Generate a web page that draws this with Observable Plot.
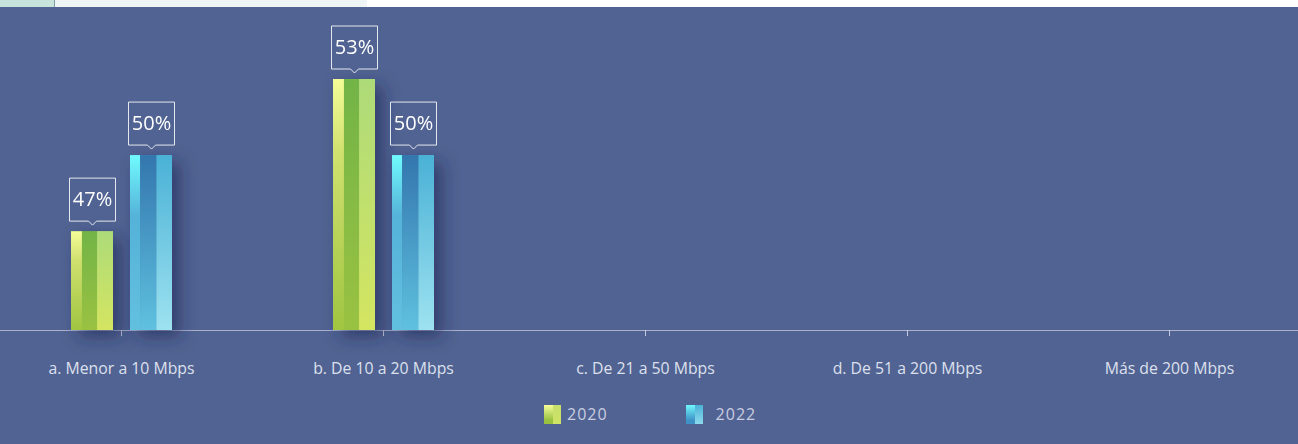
<!DOCTYPE html>
<html><head><meta charset="utf-8">
<script src="https://cdn.jsdelivr.net/npm/d3@7"></script>
<script src="https://cdn.jsdelivr.net/npm/@observablehq/plot@0.6"></script>
<style>
html,body{margin:0;padding:0;background:#516392;overflow:hidden;width:1298px;height:444px;font-family:"Open Sans",sans-serif;}
#topstrip{height:7px;display:flex;}
#chart{position:absolute;left:0;top:7px;}
#legend{position:absolute;left:544px;top:404px;display:flex;gap:78px;color:#c9cde1;font-size:16px;letter-spacing:1px;}
.item{display:flex;align-items:center;height:20px;}
.sw{width:17px;height:19px;display:flex;}
.sw span{display:block;height:100%;}
</style></head><body>
<div id="topstrip"><div style="width:54px;background:#c6e4dc"></div><div style="width:1px;background:#7d9aa6"></div><div style="width:312px;background:#eff5f5"></div><div style="flex:1;background:#fff"></div></div>
<div id="chart"></div>
<div id="legend"></div>
<script>
const categories = ["a. Menor a 10 Mbps","b. De 10 a 20 Mbps","c. De 21 a 50 Mbps","d. De 51 a 200 Mbps","Más de 200 Mbps"];
const years = ["2020","2022"];
const values2020 = [47, 53, null, null, null];
const values2022 = [50, 50, null, null, null];

const yMin = 43.1, yMax = 55.84;
const FONT = '"Open Sans", sans-serif';

const rows = [];
categories.forEach((c,i)=>{
  if (values2020[i] != null) rows.push({cat:c, year:"2020", value:values2020[i]});
  if (values2022[i] != null) rows.push({cat:c, year:"2022", value:values2022[i]});
});

const callout = {
  draw(ctx){
    const w=23,h=21.5,p=4;
    ctx.moveTo(-w,-h); ctx.lineTo(w,-h); ctx.lineTo(w,h); ctx.lineTo(p,h);
    ctx.lineTo(0,h+p); ctx.lineTo(-p,h); ctx.lineTo(-w,h); ctx.closePath();
  }
};

const barMark = (yr) => Plot.barY(rows, {filter:d=>d.year===yr, fx:"cat", x:"year", y1:yMin, y2:"value", fill:`url(#bar${yr})`});

const svg = Plot.plot({
  width:1298, height:383,
  marginTop:0, marginLeft:0, marginRight:0, marginBottom:60,
  style:{background:"transparent", fontFamily:FONT, overflow:"visible"},
  fx:{domain:categories, range:[-10,1300], padding:0, label:null},
  x:{domain:years, paddingInner:0.294, paddingOuter:1.35, axis:null},
  y:{domain:[yMin,yMax], axis:null},
  marks:[
    Plot.frame({anchor:"bottom", facet:"super", stroke:"#aab1cc", strokeWidth:1}),
    Plot.axisFx({anchor:"bottom", tickSize:6, tickPadding:26, fontSize:15.8, fill:"#dde0ee", stroke:"#c5cade", label:null, fontFamily:FONT}),
    barMark("2020"),
    barMark("2022"),
    Plot.dot(rows, {fx:"cat", x:"year", y:"value", dy:-32, symbol:callout, r:10, fill:"none", stroke:"rgba(255,255,255,0.85)", strokeWidth:1}),
    Plot.text(rows, {fx:"cat", x:"year", y:"value", dy:-32, text:d=>d.value+"%", fill:"white", fontSize:20, fontWeight:500, fontFamily:FONT})
  ]
});

const defs = d3.select(svg).insert("defs", ":first-child");
defs.html(`
<filter id="barShadow" x="-60%" y="-20%" width="220%" height="150%">
  <feDropShadow dx="8" dy="7" stdDeviation="8" flood-color="#1e2855" flood-opacity="0.6"/>
</filter>
<linearGradient id="g20a" x1="0" y1="0" x2="0" y2="1"><stop offset="0" stop-color="#f5fd97"/><stop offset="0.3" stop-color="#cfe06e"/><stop offset="1" stop-color="#a0c541"/></linearGradient>
<linearGradient id="g20b" x1="0" y1="0" x2="0" y2="1"><stop offset="0" stop-color="#72b446"/><stop offset="1" stop-color="#9ac242"/></linearGradient>
<linearGradient id="g20c" x1="0" y1="0" x2="0" y2="1"><stop offset="0" stop-color="#addb79"/><stop offset="1" stop-color="#d4e561"/></linearGradient>
<linearGradient id="g22a" x1="0" y1="0" x2="0" y2="1"><stop offset="0" stop-color="#70fbfe"/><stop offset="0.35" stop-color="#55b2d9"/><stop offset="1" stop-color="#62c0df"/></linearGradient>
<linearGradient id="g22b" x1="0" y1="0" x2="0" y2="1"><stop offset="0" stop-color="#3376ae"/><stop offset="1" stop-color="#5fc1df"/></linearGradient>
<linearGradient id="g22c" x1="0" y1="0" x2="0" y2="1"><stop offset="0" stop-color="#4ab1d6"/><stop offset="1" stop-color="#9de2f0"/></linearGradient>
<pattern id="bar2020" patternContentUnits="objectBoundingBox" width="1" height="1">
  <rect x="0" y="0" width="0.27" height="1" fill="url(#g20a)"/>
  <rect x="0.26" y="0" width="0.37" height="1" fill="url(#g20b)"/>
  <rect x="0.62" y="0" width="0.38" height="1" fill="url(#g20c)"/>
</pattern>
<pattern id="bar2022" patternContentUnits="objectBoundingBox" width="1" height="1">
  <rect x="0" y="0" width="0.25" height="1" fill="url(#g22a)"/>
  <rect x="0.24" y="0" width="0.40" height="1" fill="url(#g22b)"/>
  <rect x="0.63" y="0" width="0.37" height="1" fill="url(#g22c)"/>
</pattern>`);
d3.select(svg).selectAll('g[aria-label="bar"]').attr("filter","url(#barShadow)");
document.getElementById("chart").appendChild(svg);

const swatches = {
  "2020":["linear-gradient(#f5fd97,#9ac240 80%)","linear-gradient(#c5e06c,#cfe364)"],
  "2022":["linear-gradient(#6ff8fd,#3f92c6 80%)","linear-gradient(#4ab2d7,#8cdaec)"]
};
const labelGap = {"2020":"6px","2022":"13px"};
const legend = d3.select("#legend");
years.forEach(y=>{
  const it = legend.append("div").attr("class","item").style("gap",labelGap[y]);
  const sw = it.append("div").attr("class","sw");
  sw.append("span").style("width","9px").style("background",swatches[y][0]);
  sw.append("span").style("width","8px").style("background",swatches[y][1]);
  it.append("span").text(y);
});
</script>
</body></html>
